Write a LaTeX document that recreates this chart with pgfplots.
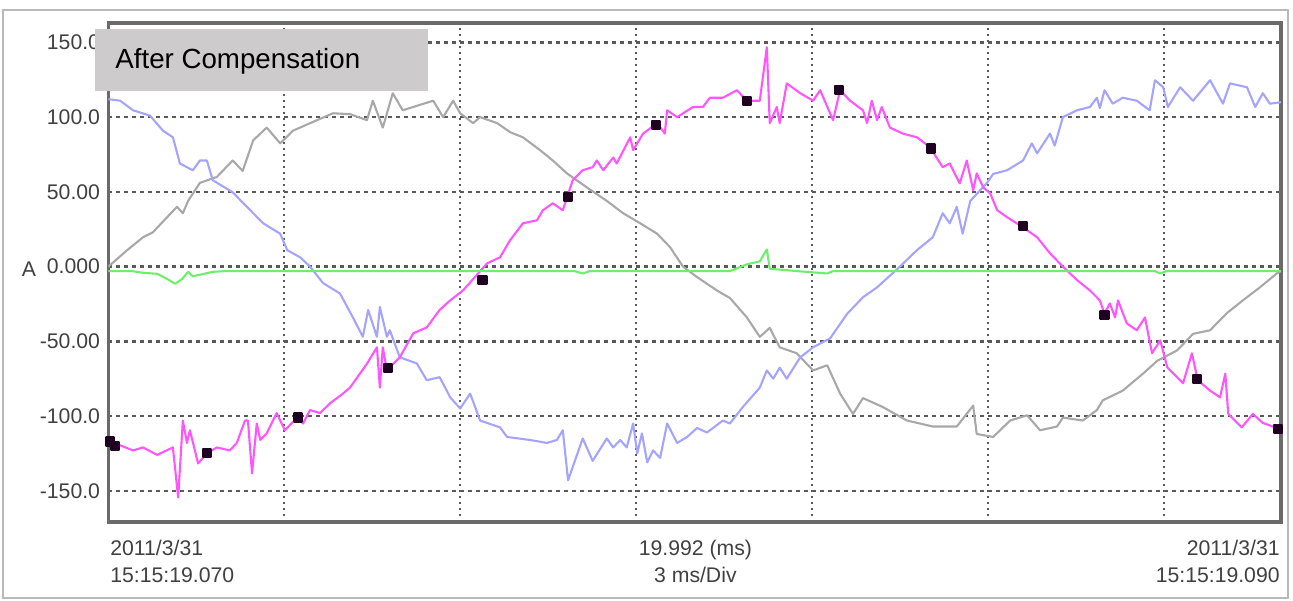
\documentclass[border=0pt]{standalone}
\usepackage{fontspec}
\setmainfont{Liberation Sans}
\usepackage{pgfplots}
\usepackage{pgfplotstable}
\pgfplotsset{compat=1.18}

\definecolor{gridc}{HTML}{5A5A5A}
\definecolor{framec}{HTML}{6A6A6A}
\definecolor{labc}{HTML}{404040}
\definecolor{boxc}{HTML}{CDCBCB}
\definecolor{phA}{HTML}{A8A8A8}
\definecolor{phB}{HTML}{A4A4FF}
\definecolor{phC}{HTML}{FF55FF}
\definecolor{neut}{HTML}{6CF06C}
\definecolor{markc}{HTML}{200020}

% time (ms)  current (A)
\pgfplotstableread{
t v
0 0
0.32 11
0.59 19.6
0.76 23
1.00 33
1.17 40
1.27 35.7
1.36 44
1.56 56
1.85 60
2.12 71
2.29 64
2.47 84.5
2.70 93
2.93 82.5
3.15 91
3.56 98
3.83 102.6
4.12 102
4.41 98
4.51 111
4.68 93
4.85 116
5.02 104.6
5.54 111
5.71 100
5.88 111
6.00 102.6
6.22 96
6.34 100
6.63 96
6.85 90
7.07 86.5
7.36 78
7.58 71
7.82 62.4
8.16 53
8.50 44
8.78 35.7
9.07 29
9.36 22
9.58 13
9.80 0
10.04 -7
10.38 -16
10.60 -21
10.89 -34
11.11 -47
11.28 -41
11.45 -54
11.74 -58
12.02 -69.5
12.26 -66
12.48 -85
12.70 -98.6
12.87 -88
13.21 -94
13.62 -103
14.06 -107
14.47 -107
14.75 -93
14.81 -112
15.09 -114
15.38 -103
15.67 -99.5
15.89 -109.5
16.18 -107
16.28 -101
16.62 -103
16.86 -96
16.96 -89.5
17.30 -83
17.65 -71.5
17.89 -63
17.99 -61
18.23 -56
18.50 -45
18.79 -42.6
19.08 -31
19.35 -22.6
19.64 -13.9
19.93 -4.5
20.00 -3
}\grayA

\pgfplotstableread{
t v
0 112
0.20 111
0.42 104.6
0.71 101
0.93 91
1.10 86.5
1.22 69
1.44 64.4
1.56 71
1.68 71
1.78 57.8
2.12 49.7
2.42 37.7
2.64 29
2.93 22
3.05 11
3.27 6.2
3.44 0
3.66 -11
3.95 -18
4.17 -34
4.34 -47
4.43 -29
4.58 -47
4.63 -27
4.75 -47
4.80 -42.6
4.97 -60.7
5.26 -64.8
5.43 -76
5.65 -74
5.83 -87.5
6.00 -95
6.17 -85
6.34 -103
6.68 -107.6
6.80 -114
7.19 -116
7.48 -118
7.65 -116
7.75 -109.5
7.84 -143
8.09 -115
8.26 -130
8.50 -115
8.61 -121
8.73 -116
8.84 -121
8.95 -105
9.02 -125
9.10 -111.6
9.19 -131
9.29 -123
9.41 -128
9.53 -105
9.70 -118
9.87 -114
10.04 -108
10.21 -111
10.48 -103
10.60 -105
10.82 -94
11.11 -81
11.23 -69.5
11.34 -75
11.45 -67.6
11.57 -75
11.80 -60.7
12.02 -54
12.31 -48
12.60 -31.6
12.87 -20.5
13.11 -13.9
13.50 0
13.79 11
14.06 19.6
14.23 35.7
14.35 29
14.47 40
14.57 22
14.70 44
14.98 55.7
15.09 62
15.33 64.5
15.60 71
15.75 82.5
15.84 75.8
16.06 89
16.14 81
16.28 100
16.52 104.6
16.74 106.8
16.86 113
16.91 106
16.99 118
17.13 109
17.30 113
17.54 111
17.76 104.6
17.85 124.7
17.99 120
18.07 106.8
18.28 120
18.50 111
18.79 124.7
19.01 109
19.13 122.6
19.42 120
19.56 106.8
19.69 116
19.81 109
20.00 110
}\blueB

\pgfplotstableread{
t v
0 -117
0.20 -119.6
0.42 -123
0.59 -121
0.83 -126
1.10 -121
1.19 -154.5
1.27 -103
1.34 -118
1.39 -109.5
1.53 -131.7
1.68 -125
1.85 -121
2.07 -123
2.19 -118
2.33 -103
2.38 -103
2.45 -138.4
2.53 -105
2.59 -116
2.70 -111.6
2.87 -98
3.01 -109.5
3.22 -101
3.32 -105
3.44 -96
3.61 -98
3.78 -91.5
4.00 -85
4.12 -81
4.41 -65
4.58 -54
4.63 -81
4.68 -54
4.75 -69.5
4.97 -60.7
5.20 -44.6
5.43 -40.7
5.65 -29
5.83 -22.6
6.05 -15.9
6.46 2.2
6.68 6.2
6.85 17.6
7.07 29
7.31 31
7.41 37.7
7.58 42.4
7.75 37.7
7.92 57.8
8.09 64.5
8.26 66.5
8.33 71
8.44 64.5
8.61 73
8.67 69
8.90 86.5
8.95 78
9.12 89
9.36 96
9.49 89
9.53 104.6
9.70 100
9.97 106.8
10.14 106.8
10.26 113
10.48 113
10.72 118
10.89 111
11.11 111
11.23 146.8
11.28 96
11.40 106.8
11.45 96
11.57 122.6
11.80 116
12.02 111
12.14 118
12.36 98
12.48 118
12.65 111
12.87 104.6
12.94 96
13.02 111
13.11 98
13.19 106.8
13.33 93
13.55 89
13.79 86.5
14.01 80
14.23 66.5
14.35 69
14.52 55.7
14.64 71
14.75 51
14.81 62.4
14.92 53
15.04 49
15.16 37.7
15.33 33
15.60 26.3
15.84 19.6
16.06 8.9
16.28 0
16.52 -9
16.74 -15.9
16.91 -22.6
16.99 -31.6
17.08 -24.6
17.17 -34
17.22 -22.6
17.37 -38
17.54 -42.6
17.68 -34
17.80 -58
17.94 -49.4
18.06 -67.4
18.33 -78
18.48 -58
18.58 -76
18.79 -83
18.96 -87.5
19.05 -71.6
19.10 -98.6
19.33 -107.6
19.52 -98.6
19.69 -104.6
20.00 -109
}\magC

\pgfplotstableread{
t v
0 -3
0.40 -3
0.60 -4.2
0.83 -4.8
1.00 -8.2
1.14 -11.5
1.26 -8.2
1.36 -3.5
1.44 -6.5
1.61 -5
1.78 -3.5
2.00 -3
7.95 -3
8.09 -4.6
8.21 -3
10.60 -3
10.89 1.5
11.11 3.5
11.23 11.5
11.28 -1.5
11.45 -2
11.74 -3
12.26 -4.6
12.36 -3
17.85 -3
17.94 -4.6
18.05 -3
20.00 -3
}\greenN

\pgfplotstableread{
t v
0.03 -117
0.12 -120
1.68 -125
3.23 -101
4.77 -67.6
6.38 -9
7.84 46.4
9.34 94.5
10.89 111
12.46 118
14.03 79
15.60 27
16.99 -32.6
18.57 -75
19.95 -108.8
}\marks

\begin{document}
\begin{tikzpicture}
\useasboundingbox (-54.2pt,-39pt) rectangle (592.3pt,261pt);
\draw[gray!55, line width=1.2pt] (-52.7pt,-38pt) rectangle (589.8pt,256pt);
\begin{axis}[
  at={(0pt,0pt)}, anchor=south west,
  scale only axis, width=586.3pt, height=249.5pt,
  xmin=0, xmax=20, ymin=-170.9, ymax=163,
  xtick={3,6,9,12,15,18}, xticklabels={},
  ytick={-150,-100,-50,0,50,100,150},
  yticklabels={-150.0,-100.0,-50.00,0.000,50.00,100.0,150.0},
  major tick length=0pt,
  grid=major,
  major x grid style={gridc, line width=1.2pt, dash pattern=on 1.2pt off 1.8pt},
  major y grid style={gridc, line width=1.2pt, dash pattern=on 1.8pt off 2.2pt},
  axis line style={framec, line width=1.6pt},
  yticklabel style={font=\fontsize{10.6}{12}\selectfont, text=labc, anchor=east, inner sep=0pt, xshift=-4pt},
  every axis plot/.append style={line width=1.05pt, line join=round},
]
\addplot[phA, no markers] table {\grayA};
\addplot[phB, no markers] table {\blueB};
\addplot[phC, no markers] table {\magC};
\addplot[neut, no markers] table {\greenN};
\addplot[only marks, mark=square*, mark size=2pt, markc] table {\marks};
\end{axis}
\fill[boxc] (-6.7pt,215.5pt) rectangle (159.8pt,246.5pt);
\node[anchor=west, inner sep=0pt, font=\fontsize{13.85}{16}\selectfont] at (3.3pt,230.5pt) {After Compensation};
\node[anchor=center, inner sep=0pt, text=labc, font=\fontsize{10.6}{12}\selectfont] at (-39.7pt,126.5pt) {A};
\begin{scope}[every node/.style={inner sep=0pt, text=labc, font=\fontsize{10.6}{12}\selectfont}]
\node[anchor=base west] at (0.8pt,-16.5pt) {2011/3/31};
\node[anchor=base west] at (0.8pt,-30pt) {15:15:19.070};
\node[anchor=base] at (293.5pt,-16.5pt) {19.992 (ms)};
\node[anchor=base] at (293.5pt,-30pt) {3 ms/Div};
\node[anchor=base east] at (585.8pt,-16.5pt) {2011/3/31};
\node[anchor=base east] at (585.8pt,-30pt) {15:15:19.090};
\end{scope}
\end{tikzpicture}
\end{document}
